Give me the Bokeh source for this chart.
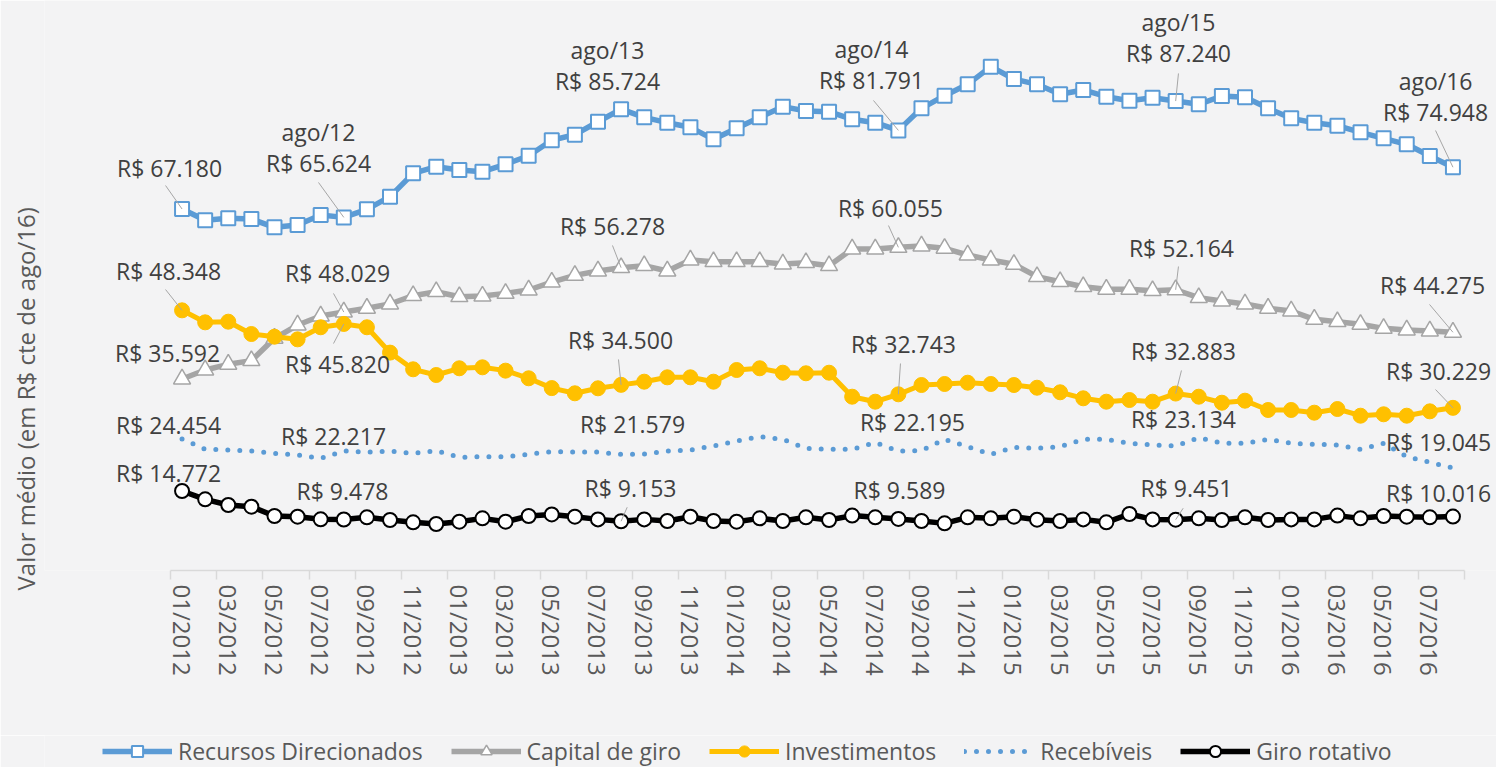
from bokeh.plotting import figure
from bokeh.layouts import column
from bokeh.models import (Range1d, LinearAxis, FixedTicker, Legend, LegendItem,
                          ColumnDataSource, LabelSet, Arrow, Title)
from bokeh.core.properties import value
from bokeh.embed import file_html
from bokeh.resources import INLINE

# ---------------- data ----------------
months = [f"{m:02d}/{y}" for y in (2012, 2013, 2014, 2015, 2016) for m in range(1, 13)][:56]

recursos = [67.180, 65.08, 65.45, 65.32, 63.78, 64.21, 66.06, 65.624, 67.12, 69.47,
            73.81, 75.04, 74.43, 74.11, 75.48, 77.08, 79.95, 81.00, 83.40, 85.724,
            84.22, 83.22, 82.36, 80.13, 82.18, 84.22, 86.20, 85.40, 85.26, 83.85,
            83.22, 81.791, 85.89, 88.24, 90.35, 93.63, 91.34, 90.35, 88.50, 89.30,
            88.05, 87.31, 87.87, 87.240, 86.64, 88.18, 87.94, 85.89, 84.03, 83.22,
            82.66, 81.43, 80.31, 79.20, 77.03, 74.948]
capital = [35.592, 37.26, 38.32, 39.00, 43.15, 45.62, 47.30, 48.029, 48.73, 49.53,
           51.07, 51.81, 50.88, 51.00, 51.50, 52.13, 53.60, 54.85, 55.66, 56.278,
           56.65, 55.66, 57.70, 57.39, 57.39, 57.39, 56.96, 57.20, 56.65, 59.75,
           59.75, 60.055, 60.30, 59.87, 58.63, 57.70, 56.90, 54.60, 53.67, 52.74,
           52.26, 52.26, 52.00, 52.164, 50.70, 50.08, 49.53, 48.73, 48.23, 46.68,
           46.24, 45.75, 45.00, 44.69, 44.50, 44.275]
investimentos = [48.348, 46.12, 46.24, 43.95, 43.45, 42.96, 45.20, 45.820, 45.20, 40.49,
                 37.39, 36.33, 37.58, 37.76, 37.14, 35.72, 33.90, 32.93, 33.86, 34.500,
                 35.09, 35.90, 35.90, 35.09, 37.26, 37.58, 36.76, 36.65, 36.76, 32.30,
                 31.37, 32.743, 34.47, 34.66, 34.90, 34.66, 34.47, 33.97, 33.12, 32.00,
                 31.37, 31.68, 31.37, 32.883, 32.30, 31.18, 31.56, 29.83, 29.83, 29.33,
                 30.01, 28.77, 29.03, 28.77, 29.58, 30.229]
recebiveis = [24.454, 22.52, 22.40, 22.20, 21.77, 21.46, 20.84, 22.217, 21.97, 22.20,
              21.77, 22.27, 21.03, 21.15, 21.15, 21.60, 22.08, 22.00, 22.00, 21.579,
              21.64, 22.20, 22.40, 23.14, 24.07, 24.87, 24.38, 22.71, 22.52, 22.52,
              23.76, 22.195, 22.30, 24.38, 23.00, 21.60, 22.90, 22.71, 23.00, 24.38,
              24.38, 23.64, 23.33, 23.134, 24.69, 23.64, 23.64, 24.38, 23.64, 23.45,
              23.33, 22.52, 23.64, 21.15, 20.11, 19.045]
giro = [14.772, 13.23, 12.17, 11.86, 10.13, 10.00, 9.51, 9.478, 9.88, 9.38,
        8.95, 8.64, 9.07, 9.69, 9.07, 10.13, 10.42, 10.00, 9.50, 9.153,
        9.50, 9.20, 10.00, 9.20, 9.07, 9.69, 9.20, 9.88, 9.38, 10.20,
        9.88, 9.589, 9.20, 8.76, 9.88, 9.69, 10.00, 9.45, 9.20, 9.50,
        8.95, 10.50, 9.50, 9.451, 9.69, 9.38, 9.88, 9.38, 9.50, 9.50,
        10.20, 9.69, 10.13, 10.00, 9.88, 10.016]

label_idx = [0, 7, 19, 31, 43, 55]
date_labels = ["", "ago/12", "ago/13", "ago/14", "ago/15", "ago/16"]

# ---------------- layout (pixels) ----------------
LEFT = 44
AXIS_LEFT = 170            # pixel where category -0.5 sits
FRAME_W, FRAME_H = 1496 - LEFT, 570
PXX = 1294 / 56.0
PXY = 5.381
X0 = -0.5 - (AXIS_LEFT - LEFT) / PXX
X1 = X0 + FRAME_W / PXX

# label offsets (dx, dy up) in px from the point, per series
off_rec = [(-12.5, 41.5), (-25.3, 53.9), (-13.6, 28.7), (-26.9, 49.9), (2.8, 47.6), (-17.4, 55.7)]
lead_rec = [(-16.5, 23.5), (-25.3, 34.9), None, (-24.9, 29.9), (2.8, 27.6), (-17.4, 36.7)]
off_cap = [(-14.5, 25.5), (-6.3, 38.6), (-8.6, 41.2), (-7.9, 39.8), (5.8, 42.3), (-20.4, 46.8)]
lead_cap = [None, (-10.3, 18.6), (-8.6, 22.2), (-9.9, 21.8), (2.8, 23.3), (-23.4, 27.8)]
off_inv = [(-13.5, 39.8), (-6.3, -39.6), (-0.6, 44.4), (5.1, 50.8), (7.8, 42.1), (-14.4, 37.3)]
lead_inv = [(-16.5, 20.8), (-10.3, -19.6), (-2.6, 25.4), (2.1, 30.8), (5.8, 23.1), (-17.4, 18.3)]
off_reb = [(-13.5, 14.4), (-10.3, 14.5), (11.4, 29.9), (14.1, 28.6), (7.8, 27.5), (-14.4, 26.5)]
off_gir = [(-13.5, 18.5), (-1.3, 28.0), (9.4, 33.7), (1.1, 29.4), (10.8, 32.1), (-14.4, 24.1)]
lead_gir = [None, None, (6.1, 14.0), None, (7.5, 11.4), None]

BG = "#f3f3f4"
FONT = "Open Sans"
LABEL_COLOR = "#404040"
AXIS_COLOR = "#595959"

p = figure(frame_width=FRAME_W, frame_height=FRAME_H,
           min_border_left=LEFT, min_border_right=0, min_border_top=0, min_border_bottom=165,
           x_range=Range1d(X0, X1), y_range=Range1d(0, FRAME_H / PXY),
           x_axis_location=None, y_axis_location=None,
           toolbar_location=None, output_backend="svg",
           background_fill_color=BG, border_fill_color=BG, outline_line_color=None)
p.grid.visible = False

x = list(range(56))

tick_axis = LinearAxis(ticker=FixedTicker(ticks=[k - 0.5 for k in range(0, 57, 2)]),
                       bounds=(-0.5, 55.5),
                       axis_line_color="#d9d9d9", axis_line_width=1.5,
                       major_tick_line_color="#d9d9d9", major_tick_line_width=1.5,
                       major_tick_out=9, major_tick_in=0, minor_tick_line_color=None,
                       major_label_text_font_size="1px", major_label_text_alpha=0,
                       major_label_standoff=0)
label_axis = LinearAxis(ticker=FixedTicker(ticks=list(range(0, 56, 2))),
                        major_label_overrides={i: months[i] for i in range(0, 56, 2)},
                        axis_line_color=None, major_tick_line_color=None,
                        major_tick_out=0, major_tick_in=0, minor_tick_line_color=None,
                        major_label_orientation="vertical",
                        major_label_text_font=FONT, major_label_text_font_size="24px",
                        major_label_text_color=AXIS_COLOR, major_label_standoff=5)
p.add_layout(tick_axis, "below")
p.add_layout(label_axis, "below")

ytitle = Title(text="Valor médio (em R$ cte de ago/16)", align="left", offset=-20,
               vertical_align="middle", standoff=4,
               text_font=FONT, text_font_size="24px", text_font_style="normal",
               text_color=AXIS_COLOR)
p.add_layout(ytitle, "left")

STYLES = {
    "rec_line": dict(line_color="#5B9BD5", line_width=5.5),
    "rec_mark": dict(marker="square", size=14, fill_color="white", line_color="#5B9BD5", line_width=2),
    "cap_line": dict(line_color="#A5A5A5", line_width=5.5),
    "cap_mark": dict(marker="triangle", size=17, fill_color="white", line_color="#A5A5A5", line_width=1.5),
    "inv_line": dict(line_color="#FFC000", line_width=5),
    "inv_mark": dict(marker="circle", size=15, fill_color="#FFC000", line_color="#FFC000"),
    "reb_line": dict(line_color="#5B9BD5", line_width=5, line_dash="0 12", line_cap="round"),
    "gir_line": dict(line_color="black", line_width=5.5),
    "gir_mark": dict(marker="circle", size=14, fill_color="white", line_color="black", line_width=2),
}


def draw_series(fig):
    r = []
    r.append((fig.line(x, recursos, **STYLES["rec_line"]), fig.scatter(x, recursos, **STYLES["rec_mark"])))
    r.append((fig.line(x, capital, **STYLES["cap_line"]), fig.scatter(x, capital, **STYLES["cap_mark"])))
    r.append((fig.line(x, investimentos, **STYLES["inv_line"]), fig.scatter(x, investimentos, **STYLES["inv_mark"])))
    r.append((fig.line(x, recebiveis, **STYLES["reb_line"]),))
    r.append((fig.line(x, giro, **STYLES["gir_line"]), fig.scatter(x, giro, **STYLES["gir_mark"])))
    return r


draw_series(p)


def add_labels(series, offsets, leaders, dates=None):
    lx, ly, lt = [], [], []
    ax0, ay0, ax1, ay1 = [], [], [], []
    for k, i in enumerate(label_idx):
        v = series[i]
        dx, dy = offsets[k]
        lx.append(i + dx / PXX); ly.append(v + dy / PXY); lt.append("R$ " + f"{v:.3f}")
        if dates is not None and dates[k]:
            lx.append(i + dx / PXX); ly.append(v + (dy + 31) / PXY); lt.append(dates[k])
        if leaders[k] is not None:
            sx, sy = leaders[k]
            ax0.append(i + sx / PXX); ay0.append(v + sy / PXY)
            ax1.append(i); ay1.append(v)
    if ax0:
        p.add_layout(Arrow(end=None, start=None, x_start="x0", y_start="y0",
                           x_end="x1", y_end="y1",
                           source=ColumnDataSource(dict(x0=ax0, y0=ay0, x1=ax1, y1=ay1)),
                           line_color="#a6a6a6", line_width=1))
    p.add_layout(LabelSet(x="x", y="y", text="t",
                          source=ColumnDataSource(dict(x=lx, y=ly, t=lt)),
                          text_font=value(FONT), text_font_size=value("23px"),
                          text_color=LABEL_COLOR, text_align="center",
                          text_baseline="middle"))


add_labels(recursos, off_rec, lead_rec, date_labels)
add_labels(capital, off_cap, lead_cap)
add_labels(investimentos, off_inv, lead_inv)
add_labels(recebiveis, off_reb, [None] * 6)
add_labels(giro, off_gir, lead_gir)

# ---------------- legend strip ----------------
# the same series are drawn again in a strip whose y range lies far below
# the data, so only the legend is visible there
LEG_H = 32
p2 = figure(frame_width=FRAME_W, frame_height=LEG_H, min_border=0, min_border_left=LEFT,
            x_range=Range1d(X0, X1), y_range=Range1d(-1000, -1000 + LEG_H),
            x_axis_location=None, y_axis_location=None,
            toolbar_location=None, output_backend="svg",
            background_fill_color=BG, border_fill_color=BG, outline_line_color=None)
p2.grid.visible = False
rr = draw_series(p2)

names = ["Recursos Direcionados", "Capital de giro", "Investimentos", "Recebíveis", "Giro rotativo"]
legend = Legend(items=[LegendItem(label=n, renderers=list(r)) for n, r in zip(names, rr)],
                location=(102 - LEFT, 0), orientation="horizontal",
                glyph_width=70, glyph_height=28,
                label_standoff=6, spacing=28, padding=0, margin=0, border_line_color=None,
                background_fill_alpha=0, label_text_font=FONT, label_text_font_size="23px",
                label_text_color=AXIS_COLOR)
p2.add_layout(legend)

layout = column(p, p2, spacing=0)
open("out.html", "w").write(file_html(layout, INLINE))
